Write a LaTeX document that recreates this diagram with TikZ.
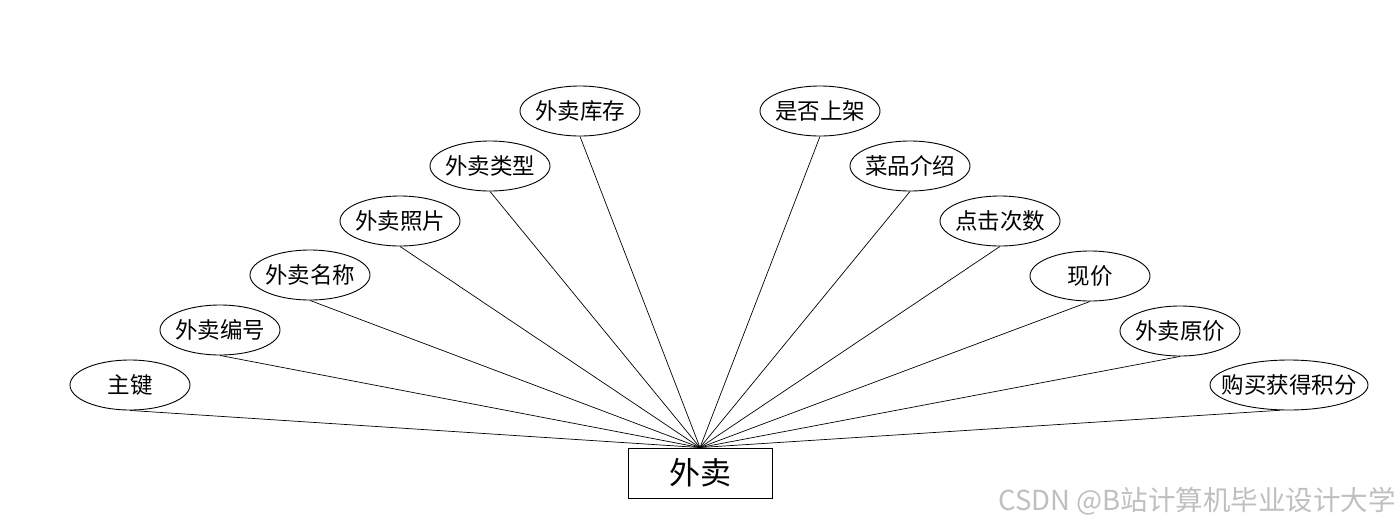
\documentclass[tikz,border=0pt]{standalone}
\usepackage{fontspec}
\setmainfont{Noto Sans CJK SC}
\usetikzlibrary{shapes.geometric}
\begin{document}
\begin{tikzpicture}[x=1pt,y=-1pt,
  attr/.style={ellipse,draw,line width=0.9pt,minimum width=120pt,minimum height=50pt,inner sep=0pt,font=\fontsize{22.5}{26}\selectfont},
  ent/.style={rectangle,draw,line width=0.9pt,minimum width=144pt,minimum height=50pt,inner sep=0pt,font=\fontsize{31}{35}\selectfont},
  link/.style={line width=0.7pt}]
\useasboundingbox (0,0) rectangle (1400,528);
\node[ent] (e) at (700,473) {外卖};
\node[attr] (a1) at (130,385) {\makebox[0pt]{主键}};
\node[attr] (a2) at (220,330) {\makebox[0pt]{外卖编号}};
\node[attr] (a3) at (310,275) {\makebox[0pt]{外卖名称}};
\node[attr] (a4) at (400,221) {\makebox[0pt]{外卖照片}};
\node[attr] (a5) at (490,166) {\makebox[0pt]{外卖类型}};
\node[attr] (a6) at (580,111) {\makebox[0pt]{外卖库存}};
\node[attr] (a7) at (820,111) {\makebox[0pt]{是否上架}};
\node[attr] (a8) at (910,166) {\makebox[0pt]{菜品介绍}};
\node[attr] (a9) at (1000,221) {\makebox[0pt]{点击次数}};
\node[attr] (a10) at (1090,276) {\makebox[0pt]{现价}};
\node[attr] (a11) at (1180,331) {\makebox[0pt]{外卖原价}};
\node[attr,minimum width=158pt] (a12) at (1289,385) {\makebox[0pt]{购买获得积分}};
\foreach \i in {1,...,11} \draw[link] (a\i.south) -- (e.north);
\draw[link] (a12.250) -- (e.north);
\node[text=black!25,font=\fontsize{27.5}{31}\selectfont,anchor=east,inner sep=0pt] (wm) at (1396,501) {CSDN @B站计算机毕业设计大学};
\end{tikzpicture}
\end{document}
